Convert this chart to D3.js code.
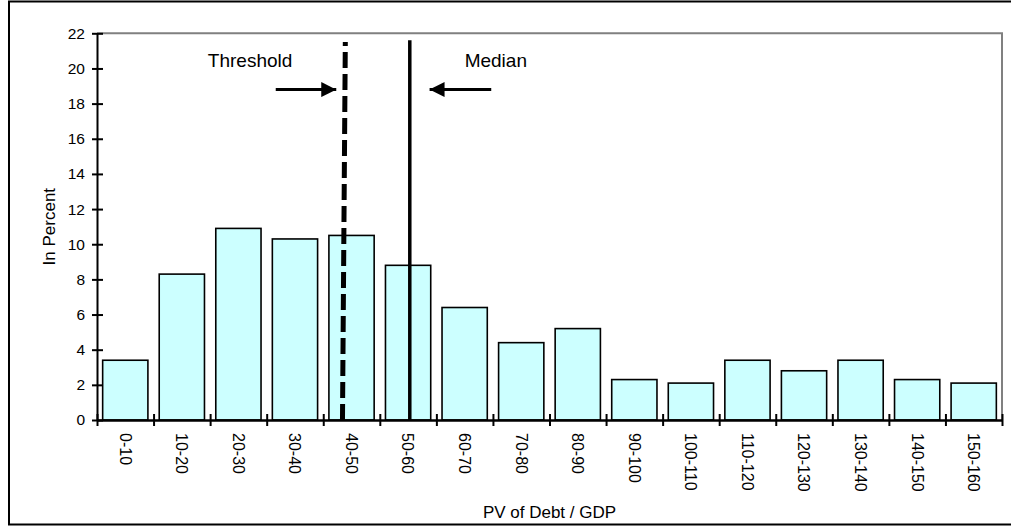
<!DOCTYPE html>
<html>
<head>
<meta charset="utf-8">
<script src="https://cdn.jsdelivr.net/npm/d3@7"></script>
<style>
  html, body { margin: 0; padding: 0; background: #fff; }
  svg { display: block; font-family: "Liberation Sans", Arial, sans-serif; }
</style>
</head>
<body>
<svg id="chart" width="1011" height="527"></svg>
<script>
// ---- data ----
const categories = ["0-10","10-20","20-30","30-40","40-50","50-60","60-70","70-80",
  "80-90","90-100","100-110","110-120","120-130","130-140","140-150","150-160"];
const values = [3.4, 8.3, 10.9, 10.3, 10.5, 8.8, 6.4, 4.4, 5.2, 2.3, 2.1, 3.4, 2.8, 3.4, 2.3, 2.1];
const yTicks = [0, 2, 4, 6, 8, 10, 12, 14, 16, 18, 20, 22];
const xBoundaries = [0,10,20,30,40,50,60,70,80,90,100,110,120,130,140,150,160];
// reference lines (in PV/GDP units)
const thresholdLine = [{x: 43.4, y: 0}, {x: 43.9, y: 21.5}];
const medianLine = [{x: 55.3, y: 0}, {x: 55.3, y: 21.6}];
const thresholdArrow = {from: 31.6, to: 42.3, y: 18.8};
const medianArrow = {from: 69.7, to: 58.8, y: 18.8};
const annotations = [{text: "Threshold", x: 19.6, y: 20.1}, {text: "Median", x: 65.0, y: 20.1}];
const yTitle = "In Percent";
const xTitle = "PV of Debt / GDP";

// ---- layout ----
const svg = d3.select("#chart");
const L = 97, R = 1002, T = 33.3, B = 420;

const x = d3.scaleLinear().domain([0, 160]).range([L, R]);
const xb = d3.scaleBand().domain(categories).range([L, R]).paddingInner(0.2).paddingOuter(0.1);
const y = d3.scaleLinear().domain([0, 22]).range([B, T]);

// outer frame
svg.append("rect").attr("x", 9).attr("y", 1.5).attr("width", 1010).attr("height", 523)
  .attr("fill", "none").attr("stroke", "#000").attr("stroke-width", 2);

// plot border (gray top and right)
svg.append("path")
  .attr("d", `M${L},${T}H${R}V${B}`)
  .attr("fill", "none").attr("stroke", "#808080").attr("stroke-width", 2);

// bars
svg.append("g").selectAll("rect").data(values).join("rect")
  .attr("x", (d, i) => xb(categories[i]))
  .attr("y", d => y(d))
  .attr("width", xb.bandwidth())
  .attr("height", d => y(0) - y(d))
  .attr("fill", "#CCFFFF")
  .attr("stroke", "#000")
  .attr("stroke-width", 1.6);

// y axis
const yAxis = d3.axisLeft(y).tickValues(yTicks).tickSize(0).tickPadding(12);
const gy = svg.append("g").attr("transform", `translate(${L},0)`).call(yAxis);
gy.select(".domain").attr("stroke", "#000").attr("stroke-width", 2);
gy.selectAll(".tick line").attr("x1", -5).attr("x2", 6).attr("stroke", "#000").attr("stroke-width", 2);
gy.selectAll(".tick text").attr("font-size", 15.5).attr("fill", "#000")
  .attr("font-family", "'Liberation Sans', Arial, sans-serif");

// x axis boundaries ticks
const xAxis = d3.axisBottom(x).tickValues(xBoundaries).tickSize(0).tickFormat("");
const gx = svg.append("g").attr("transform", `translate(0,${B})`).call(xAxis);
gx.select(".domain").attr("stroke", "#000").attr("stroke-width", 2.5);
gx.selectAll(".tick line").attr("y1", -6).attr("y2", 6).attr("stroke", "#000").attr("stroke-width", 2);

// x category labels (rotated, reading top-to-bottom)
svg.append("g").selectAll("text").data(categories).join("text")
  .attr("transform", d => `translate(${xb(d) + xb.bandwidth() / 2},433) rotate(90)`)
  .attr("dy", "0.35em")
  .attr("text-anchor", "start")
  .attr("font-size", 16)
  .attr("fill", "#000")
  .text(d => d);

// reference lines
const line = d3.line().x(d => x(d.x)).y(d => y(d.y));
svg.append("path").attr("d", line(thresholdLine))
  .attr("fill", "none").attr("stroke", "#000").attr("stroke-width", 5)
  .attr("stroke-dasharray", "16,6");
svg.append("path").attr("d", line(medianLine))
  .attr("fill", "none").attr("stroke", "#000").attr("stroke-width", 3.5);

// arrows
svg.append("defs").append("marker")
  .attr("id", "ah").attr("viewBox", "0 0 10 10").attr("refX", 10).attr("refY", 5)
  .attr("markerUnits", "userSpaceOnUse").attr("markerWidth", 15).attr("markerHeight", 15)
  .attr("orient", "auto")
  .append("path").attr("d", "M0,0L10,5L0,10Z").attr("fill", "#000");
[thresholdArrow, medianArrow].forEach(a => {
  svg.append("line")
    .attr("x1", x(a.from)).attr("x2", x(a.to))
    .attr("y1", y(a.y)).attr("y2", y(a.y))
    .attr("stroke", "#000").attr("stroke-width", 3)
    .attr("marker-end", "url(#ah)");
});

// annotations
svg.append("g").selectAll("text").data(annotations).join("text")
  .attr("x", d => x(d.x)).attr("y", d => y(d.y))
  .attr("font-size", 19).attr("fill", "#000")
  .text(d => d.text);

// axis titles
svg.append("text")
  .attr("transform", `translate(55,${(T + B) / 2}) rotate(-90)`)
  .attr("text-anchor", "middle").attr("font-size", 17).attr("fill", "#000")
  .text(yTitle);
svg.append("text")
  .attr("x", (L + R) / 2).attr("y", 518)
  .attr("text-anchor", "middle").attr("font-size", 17).attr("fill", "#000")
  .text(xTitle);
</script>
</body>
</html>
